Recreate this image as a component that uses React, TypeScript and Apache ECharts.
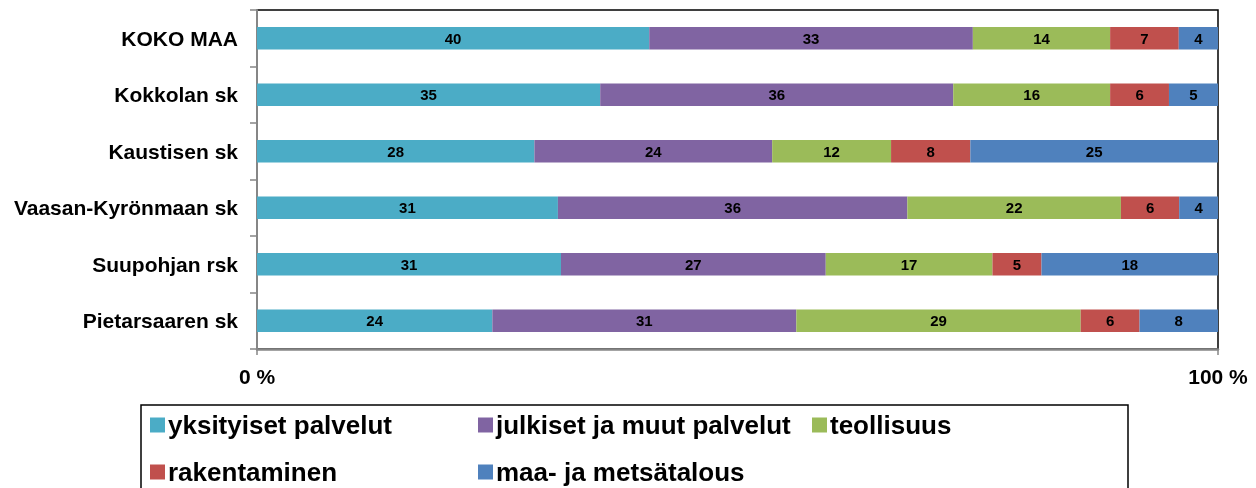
import React, { useEffect, useRef } from "react";
import * as echarts from "echarts";

const categories = [
  "KOKO MAA",
  "Kokkolan sk",
  "Kaustisen sk",
  "Vaasan-Kyrönmaan sk",
  "Suupohjan rsk",
  "Pietarsaaren sk",
];

const seriesNames = [
  "yksityiset palvelut",
  "julkiset ja muut palvelut",
  "teollisuus",
  "rakentaminen",
  "maa- ja metsätalous",
];

const yksityiset = [40, 35, 28, 31, 31, 24];
const julkiset = [33, 36, 24, 36, 27, 31];
const teollisuus = [14, 16, 12, 22, 17, 29];
const rakentaminen = [7, 6, 8, 6, 5, 6];
const maaMetsa = [4, 5, 25, 4, 18, 8];

const xTickLabels = ["0 %", "100 %"];

const colors = ["#4BACC6", "#8064A2", "#9BBB59", "#C0504D", "#4F81BD"];

const FONT = "'Liberation Sans', Arial, sans-serif";

export default function App() {
  const ref = useRef<HTMLDivElement>(null);

  useEffect(() => {
    if (!ref.current) return;
    const chart = echarts.init(ref.current, null, { renderer: "svg" });
    const raw = [yksityiset, julkiset, teollisuus, rakentaminen, maaMetsa];
    const totals = categories.map((_, i) =>
      raw.reduce((s, arr) => s + arr[i], 0)
    );

    const series = raw.map((arr, si) => ({
      name: seriesNames[si],
      type: "bar",
      stack: "total",
      barWidth: 22.5,
      itemStyle: { color: colors[si] },
      label: {
        show: true,
        position: "inside",
        color: "#000",
        fontFamily: FONT,
        fontWeight: "bold",
        fontSize: 15,
        formatter: (p: any) => String(arr[p.dataIndex]),
      },
      data: arr.map((v, i) => (v / totals[i]) * 100),
    }));

    const legendPos = [
      { left: 150, top: 412 },
      { left: 478, top: 412 },
      { left: 812, top: 412 },
      { left: 150, top: 459 },
      { left: 478, top: 459 },
    ];

    const legends = seriesNames.map((n, i) => ({
      data: [n],
      left: legendPos[i].left,
      top: legendPos[i].top,
      padding: 0,
      itemWidth: 15,
      itemHeight: 15,
      icon: "rect",
      itemStyle: { borderWidth: 0 },
      selectedMode: false,
      textStyle: {
        fontFamily: FONT,
        fontWeight: "bold",
        fontSize: 26,
        lineHeight: 26,
        color: "#000",
        padding: [0, 0, 0, -2],
      },
    }));

    chart.setOption({
      animation: false,
      color: colors,
      legend: legends,
      grid: {
        left: 257,
        right: 38,
        top: 10,
        height: 339,
        show: true,
        borderColor: "#000",
        borderWidth: 1.5,
        backgroundColor: "transparent",
      },
      xAxis: {
        type: "value",
        min: 0,
        max: 100,
        interval: 100,
        axisLine: { show: true, lineStyle: { color: "#868686", width: 2.5 } },
        axisTick: { show: true, length: 6, lineStyle: { color: "#868686", width: 1.5 } },
        splitLine: { show: false },
        axisLabel: {
          margin: 17,
          fontFamily: FONT,
          fontWeight: "bold",
          fontSize: 21,
          color: "#000",
          formatter: (v: number) => (v === 0 ? xTickLabels[0] : xTickLabels[1]),
        },
      },
      yAxis: {
        type: "category",
        inverse: true,
        data: categories,
        axisLine: { show: true, lineStyle: { color: "#868686", width: 2 } },
        axisTick: { show: true, length: 7, lineStyle: { color: "#868686", width: 1.5 } },
        axisLabel: {
          margin: 19,
          fontFamily: FONT,
          fontWeight: "bold",
          fontSize: 21,
          color: "#000",
        },
      },
      graphic: [
        {
          type: "rect",
          shape: { x: 141, y: 405, width: 987, height: 120 },
          style: { fill: "none", stroke: "#000", lineWidth: 1.5 },
          silent: true,
        },
      ],
      series,
    });
    return () => chart.dispose();
  }, []);

  return (
    <div
      ref={ref}
      style={{ position: "fixed", left: 0, top: 0, width: 1256, height: 488 }}
    />
  );
}
